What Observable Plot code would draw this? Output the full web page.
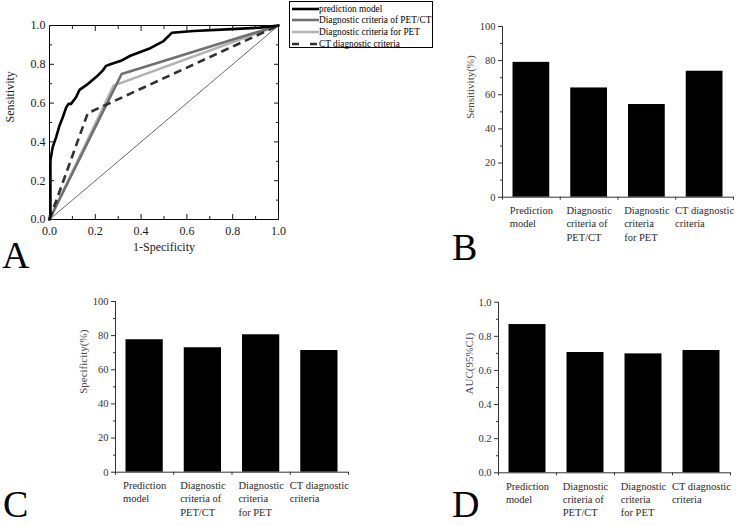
<!DOCTYPE html>
<html>
<head>
<meta charset="utf-8">
<script src="https://cdn.jsdelivr.net/npm/d3@7"></script>
<script src="https://cdn.jsdelivr.net/npm/@observablehq/plot@0.6"></script>
<style>
  body { margin: 0; background: #fff; }
  #wrap { position: relative; width: 740px; height: 526px; overflow: hidden; background: #fff;
          font-family: "Liberation Serif", "Times New Roman", serif; }
  .letter { position: absolute; font-size: 38px; line-height: 26px; height: 26px; color: #000; }
  .legend { position: absolute; border: 1px solid #000; background: #fff; box-sizing: border-box;
            font-family: "Liberation Serif", serif; font-size: 9.3px; color: #000; }
  .legend .row { position: absolute; left: 2px; height: 10px; display: flex; align-items: center; white-space: nowrap; }
  .legend svg { display: block; }
</style>
</head>
<body>
<div id="wrap"></div>
<script>
// ---------------- DATA ----------------
const rocSeries = ["prediction model", "Diagnostic criteria of PET/CT", "Diagnostic criteria for PET", "CT diagnostic criteria"];

const predFpr = [0, 0.004, 0.004, 0.014, 0.029, 0.044, 0.058, 0.073, 0.083, 0.094, 0.116, 0.131, 0.167, 0.21, 0.232, 0.247, 0.266, 0.312, 0.353, 0.44, 0.498, 0.535, 0.629, 0.774, 0.919, 1];
const predTpr = [0, 0.03, 0.305, 0.373, 0.425, 0.485, 0.527, 0.578, 0.596, 0.596, 0.63, 0.668, 0.698, 0.741, 0.767, 0.792, 0.80, 0.818, 0.844, 0.883, 0.92, 0.963, 0.972, 0.98, 0.989, 1];
const petctFpr = [0, 0.315, 1];
const petctTpr = [0, 0.75, 1];
const petFpr = [0, 0.28, 1];
const petTpr = [0, 0.69, 1];
const ctFpr = [0, 0.167, 1];
const ctTpr = [0, 0.548, 1];
const chanceLine = [0, 1];

const categories = ["Prediction\nmodel", "Diagnostic\ncriteria of\nPET/CT", "Diagnostic\ncriteria\nfor PET", "CT diagnostic\ncriteria"];
const sensitivity = [79, 64, 54.3, 73.8];
const specificity = [77.6, 72.9, 80.5, 71.3];
const auc = [0.869, 0.705, 0.697, 0.717];

const rocTicks = [0, 0.2, 0.4, 0.6, 0.8, 1.0];
const rocMinor = [0.1, 0.3, 0.5, 0.7, 0.9];
const pctTicks = [0, 20, 40, 60, 80, 100];
const pctMinor = [10, 30, 50, 70, 90];
const aucTicks = [0, 0.2, 0.4, 0.6, 0.8, 1.0];
const aucMinor = [0.1, 0.3, 0.5, 0.7, 0.9];
const boundaryTicks = [0, 1, 2, 3, 4];

// ---------------- STYLES ----------------
const rocStyles = {
  "prediction model": {stroke: "#000", strokeWidth: 2.6},
  "Diagnostic criteria of PET/CT": {stroke: "#707070", strokeWidth: 2.6},
  "Diagnostic criteria for PET": {stroke: "#b3b3b3", strokeWidth: 2.6},
  "CT diagnostic criteria": {stroke: "#303030", strokeWidth: 2.6, strokeDasharray: "8,5", strokeLinecap: "butt"}
};
const rocXY = {
  "prediction model": [predFpr, predTpr],
  "Diagnostic criteria of PET/CT": [petctFpr, petctTpr],
  "Diagnostic criteria for PET": [petFpr, petTpr],
  "CT diagnostic criteria": [ctFpr, ctTpr]
};

const wrap = document.getElementById("wrap");
function place(el, left, top) {
  el.style.position = "absolute";
  el.style.left = left + "px";
  el.style.top = top + "px";
  wrap.appendChild(el);
}

// ---------------- PANEL A (ROC) ----------------
const rocRows = rocSeries.map(s => rocXY[s][0].map((f, i) => ({series: s, fpr: f, tpr: rocXY[s][1][i]})));
const drawOrder = [2, 1, 3, 0];
const fmt1 = d3.format(".1f");

const plotA = Plot.plot({
  width: 290, height: 290,
  marginLeft: 49, marginRight: 12, marginTop: 25, marginBottom: 71,
  x: {domain: [0, 1]},
  y: {domain: [0, 1]},
  style: {fontFamily: "Liberation Serif", fontSize: "12px", color: "#1a1a1a", background: "transparent", overflow: "visible"},
  marks: [
    Plot.line(chanceLine, {x: d => d, y: d => d, stroke: "#000", strokeWidth: 0.6}),
    ...drawOrder.map(k => Plot.line(rocRows[k], {x: "fpr", y: "tpr", strokeLinejoin: "round", ...rocStyles[rocSeries[k]]})),
    Plot.frame({stroke: "#000", strokeWidth: 1}),
    // inward ticks on all four sides
    Plot.axisX({anchor: "bottom", ticks: rocTicks, tickSize: 5, dy: -5, fill: "none", label: null}),
    Plot.axisX({anchor: "bottom", ticks: rocMinor, tickSize: 3, dy: -3, fill: "none", label: null}),
    Plot.axisX({anchor: "top", ticks: rocTicks, tickSize: 5, dy: 5, fill: "none", label: null}),
    Plot.axisX({anchor: "top", ticks: rocMinor, tickSize: 3, dy: 3, fill: "none", label: null}),
    Plot.axisY({anchor: "left", ticks: rocTicks, tickSize: 5, dx: 5, fill: "none", label: null}),
    Plot.axisY({anchor: "left", ticks: rocMinor, tickSize: 3, dx: 3, fill: "none", label: null}),
    Plot.axisY({anchor: "right", ticks: rocTicks, tickSize: 5, dx: -5, fill: "none", label: null}),
    Plot.axisY({anchor: "right", ticks: rocMinor, tickSize: 3, dx: -3, fill: "none", label: null}),
    // tick labels
    Plot.axisX({anchor: "bottom", ticks: rocTicks, tickSize: 0, tickPadding: 6.5, tickFormat: fmt1, label: null}),
    Plot.axisY({anchor: "left", ticks: rocTicks, tickSize: 0, tickPadding: 4, tickFormat: fmt1, label: null}),
    // titles
    Plot.text(["1-Specificity"], {frameAnchor: "bottom", dy: 31, fontSize: 12, fill: "#1a1a1a"}),
    Plot.text(["Sensitivity"], {frameAnchor: "left", rotate: -90, dx: -39, fontSize: 12, fill: "#1a1a1a"})
  ]
});
place(plotA, 0, 0);

// ---------------- BAR PANELS ----------------
const ctx = document.createElement("canvas").getContext("2d");
const catFont = 10.5;
ctx.font = `${catFont}px "Liberation Serif"`;
function blockWidth(label) {
  return d3.max(label.split("\n"), l => ctx.measureText(l).width);
}

function barPanel(values, opt) {
  const rows = categories.map((c, i) => ({i, label: c, v: values[i]}));
  const marks = [
    Plot.rectY(rows, {x1: d => d.i, x2: d => d.i + 1, y: "v", fill: "#000", insetLeft: 10.5, insetRight: 10.5}),
    Plot.ruleY([opt.yDomain[0]], {stroke: "#333", strokeWidth: 1}),
    Plot.ruleX([0], {stroke: "#333", strokeWidth: 1}),
    Plot.axisY({ticks: opt.ticks, tickSize: 4, tickPadding: 3, tickFormat: opt.fmt, label: null, stroke: "#333", fill: "#333"}),
    Plot.axisY({ticks: opt.minor, tickSize: 2, fill: "none", label: null, stroke: "#333"}),
    Plot.axisX({ticks: boundaryTicks, tickSize: 3, fill: "none", label: null, stroke: "#333"}),
    ...rows.map(r => Plot.text([r], {
      x: d => d.i + 0.5, text: "label", frameAnchor: "bottom",
      textAnchor: "start", lineAnchor: "top", lineHeight: 1.27,
      dx: -blockWidth(r.label) / 2, dy: 7.5, fontSize: catFont, fill: "#2a2a2a"
    })),
    Plot.text([opt.title], {frameAnchor: "left", rotate: -90, dx: -opt.titleDx, dy: 7, fontSize: 11, fill: "#4a4a4a"})
  ];
  return Plot.plot({
    width: opt.width, height: opt.height,
    marginLeft: opt.ml, marginRight: opt.mr, marginTop: opt.mt, marginBottom: opt.mb,
    x: {domain: [0, categories.length]},
    y: {domain: opt.yDomain},
    style: {fontFamily: "Liberation Serif", fontSize: "10.5px", color: "#333", background: "transparent", overflow: "visible"},
    marks
  });
}

const plotB = barPanel(sensitivity, {width: 360, height: 262, ml: 122, mr: 7, mt: 26, mb: 65.3,
  yDomain: [0, 100], ticks: pctTicks, minor: pctMinor, fmt: d3.format("d"), title: "Sensitivity(%)", titleDx: 32});
place(plotB, 380, 0);

const plotC = barPanel(specificity, {width: 370, height: 246, ml: 115, mr: 22, mt: 21, mb: 54.3,
  yDomain: [0, 100], ticks: pctTicks, minor: pctMinor, fmt: d3.format("d"), title: "Specificity(%)", titleDx: 32});
place(plotC, 0, 280);

const plotD = barPanel(auc, {width: 360, height: 246, ml: 118, mr: 10, mt: 21.7, mb: 53.7,
  yDomain: [0, 1], ticks: aucTicks, minor: aucMinor, fmt: fmt1, title: "AUC(95%CI)", titleDx: 29});
place(plotD, 380, 280);

// ---------------- LEGEND (panel A) ----------------
const legend = document.createElement("div");
legend.className = "legend";
legend.style.width = "144px";
legend.style.height = "47px";
rocSeries.forEach((s, k) => {
  const row = document.createElement("div");
  row.className = "row";
  row.style.top = (1.5 + k * 11.7) + "px";
  const st = rocStyles[s];
  const sw = document.createElementNS("http://www.w3.org/2000/svg", "svg");
  sw.setAttribute("width", 27); sw.setAttribute("height", 6);
  const ln = document.createElementNS("http://www.w3.org/2000/svg", "line");
  ln.setAttribute("x1", 0); ln.setAttribute("x2", 27); ln.setAttribute("y1", 3); ln.setAttribute("y2", 3);
  ln.setAttribute("stroke", st.stroke); ln.setAttribute("stroke-width", st.strokeWidth);
  if (st.strokeDasharray) ln.setAttribute("stroke-dasharray", "7,11");
  sw.appendChild(ln);
  const tx = document.createElement("span");
  tx.textContent = s;
  row.appendChild(sw); row.appendChild(tx);
  legend.appendChild(row);
});
place(legend, 289, 1);

// ---------------- PANEL LETTERS ----------------
[["A", 2, 242], ["B", 452, 234], ["C", 3, 491], ["D", 452, 491]].forEach(([t, l, tp]) => {
  const d = document.createElement("div");
  d.className = "letter";
  d.textContent = t;
  place(d, l, tp);
});
</script>
</body>
</html>
